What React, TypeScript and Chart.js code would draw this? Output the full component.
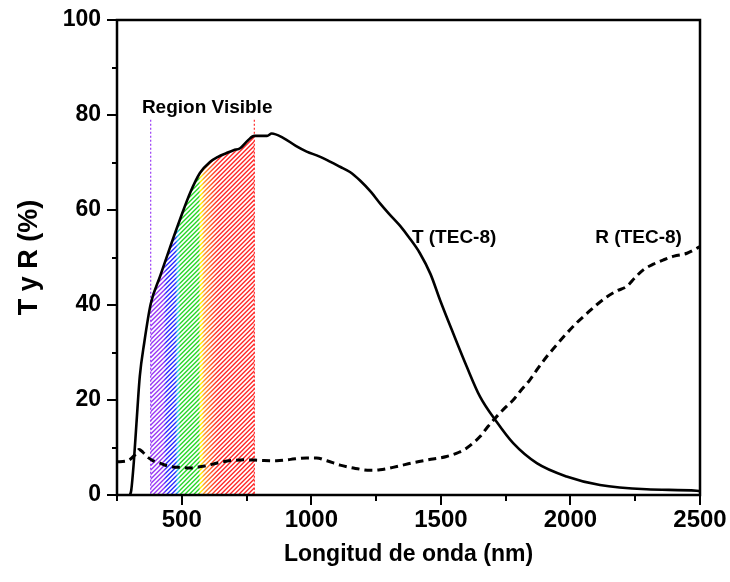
import React, { useEffect, useRef } from 'react';
import { Chart, registerables } from 'chart.js';

Chart.register(...registerables);

// ---- Data ----
const tWavelength = [300, 305, 315, 325, 338, 355, 380, 416, 455, 493, 532, 570, 609, 640, 673, 700, 725, 756, 780, 829, 847, 891, 940, 982, 1030, 1072, 1111, 1149, 1188, 1230, 1265, 1300, 1342, 1380, 1419, 1460, 1497, 1547, 1600, 1651, 1715, 1779, 1870, 1985, 2114, 2294, 2487, 2500];
const tValues = [0, 1, 7, 15, 25, 32, 40.2, 46, 52.2, 58, 63.6, 67.8, 70.1, 71.2, 72, 72.6, 73, 74.7, 75.6, 75.6, 76.1, 75.2, 73.5, 72.3, 71.3, 70.2, 69.1, 68, 66.2, 63.8, 61.4, 59.2, 56.7, 54, 50.9, 46.5, 41, 34.1, 27, 20.7, 15.4, 10.9, 6.7, 3.9, 2.1, 1.2, 0.9, 0.8];

const rWavelength = [250, 290, 320, 335, 350, 365, 390, 416, 440, 466, 500, 532, 560, 589, 620, 659, 700, 750, 800, 866, 920, 982, 1020, 1060, 1111, 1170, 1227, 1265, 1330, 1393, 1450, 1522, 1570, 1600, 1630, 1651, 1680, 1715, 1750, 1779, 1810, 1843, 1875, 1908, 1945, 1985, 2025, 2063, 2100, 2140, 2180, 2217, 2250, 2281, 2320, 2359, 2400, 2450, 2500];
const rValues = [7.0, 7.2, 8.5, 9.6, 9.0, 8.1, 7.2, 6.7, 6.2, 5.9, 5.8, 5.7, 5.9, 6.1, 6.5, 7.0, 7.3, 7.4, 7.3, 7.2, 7.5, 7.8, 7.8, 7.2, 6.3, 5.6, 5.2, 5.3, 6.0, 6.8, 7.4, 8.1, 9.0, 9.9, 11.2, 12.3, 14.3, 16.5, 18.5, 20, 22.1, 24.2, 26.7, 29.1, 31.5, 34, 36.3, 38.2, 40, 41.7, 43, 43.9, 45.8, 47.4, 48.6, 49.5, 50.3, 50.9, 52.3];

const visibleRange = [380, 780];
const markerTop = 79;
const spectrumWavelengths = [380, 430, 440, 475, 485, 495, 565, 572, 578, 585, 620, 640, 780];
const spectrumColors = ['#9a3cf5', '#9a3cf5', '#2b2bff', '#2b2bff', '#22ccee', '#2bd62b', '#2bd62b', '#ffee00', '#ffee00', '#ff9a2a', '#ff4a2a', '#ff2b2b', '#ff2b2b'];

const labelTexts = ['Region Visible', 'T (TEC-8)', 'R (TEC-8)'];
const labelX = [598, 1551, 2263];
const labelY = [81.5, 54.1, 54.1];

const xTitle = 'Longitud de onda (nm)';
const yTitle = 'T y R (%)';

const FONT = '"Liberation Sans", Arial, sans-serif';

const customPlugin = {
  id: 'custom',
  beforeDatasetsDraw(chart: any) {
    const { ctx, chartArea, scales } = chart;
    const xs = scales.x;
    const ys = scales.y;
    const x0 = xs.getPixelForValue(visibleRange[0]);
    const x1 = xs.getPixelForValue(visibleRange[1]);
    const yb = ys.getPixelForValue(0);

    // dotted markers
    ctx.save();
    ctx.lineWidth = 1.2;
    ctx.setLineDash([2, 2]);
    ctx.strokeStyle = spectrumColors[0];
    ctx.beginPath();
    ctx.moveTo(x0, ys.getPixelForValue(markerTop));
    ctx.lineTo(x0, yb);
    ctx.stroke();
    ctx.strokeStyle = spectrumColors[spectrumColors.length - 1];
    ctx.beginPath();
    ctx.moveTo(x1, ys.getPixelForValue(markerTop));
    ctx.lineTo(x1, yb);
    ctx.stroke();
    ctx.restore();

    // hatched area under T within visible range
    ctx.save();
    ctx.beginPath();
    ctx.moveTo(x0, yb);
    for (let i = 0; i < tWavelength.length; i++) {
      const w = tWavelength[i];
      if (w >= visibleRange[0] && w <= visibleRange[1]) {
        ctx.lineTo(xs.getPixelForValue(w), ys.getPixelForValue(tValues[i]));
      }
    }
    ctx.lineTo(x1, yb);
    ctx.closePath();
    ctx.clip();
    const grad = ctx.createLinearGradient(x0, 0, x1, 0);
    for (let i = 0; i < spectrumWavelengths.length; i++) {
      const f = (spectrumWavelengths[i] - visibleRange[0]) / (visibleRange[1] - visibleRange[0]);
      grad.addColorStop(Math.min(1, Math.max(0, f)), spectrumColors[i]);
    }
    ctx.strokeStyle = grad;
    ctx.lineWidth = 1.4;
    const h = yb - chartArea.top;
    ctx.beginPath();
    for (let k = x0 - h; k < x1 + 5; k += 4.5) {
      ctx.moveTo(k, yb);
      ctx.lineTo(k + h, yb - h);
    }
    ctx.stroke();
    ctx.restore();
  },
  afterDatasetsDraw(chart: any) {
    const { ctx, scales } = chart;
    ctx.save();
    ctx.fillStyle = '#000';
    ctx.font = `bold 19px ${FONT}`;
    ctx.textAlign = 'center';
    ctx.textBaseline = 'middle';
    for (let i = 0; i < labelTexts.length; i++) {
      ctx.fillText(labelTexts[i], scales.x.getPixelForValue(labelX[i]), scales.y.getPixelForValue(labelY[i]));
    }
    ctx.restore();
  },
  afterDraw(chart: any) {
    const { ctx, chartArea, scales } = chart;
    const { left, right, top, bottom } = chartArea;
    ctx.save();
    ctx.strokeStyle = '#000';
    // ticks
    ctx.lineWidth = 2;
    ctx.beginPath();
    scales.y.ticks.forEach((t: any) => {
      const y = Math.round(scales.y.getPixelForValue(t.value));
      const len = t.value % 20 === 0 ? 10 : 5;
      ctx.moveTo(left - len, y);
      ctx.lineTo(left, y);
    });
    scales.x.ticks.forEach((t: any) => {
      const x = Math.round(scales.x.getPixelForValue(t.value));
      const len = t.value % 500 === 0 ? 10 : 6;
      ctx.moveTo(x, bottom);
      ctx.lineTo(x, bottom + len);
    });
    ctx.stroke();
    // frame
    ctx.lineWidth = 2.5;
    ctx.strokeRect(left, top, right - left, bottom - top);
    // titles
    ctx.fillStyle = '#000';
    ctx.textAlign = 'center';
    ctx.textBaseline = 'middle';
    ctx.font = `bold 23px ${FONT}`;
    ctx.fillText(xTitle, (left + right) / 2, 555);
    ctx.save();
    ctx.translate(30, (top + bottom) / 2);
    ctx.rotate(-Math.PI / 2);
    ctx.font = `bold 27px ${FONT}`;
    ctx.fillText(yTitle, 0, 0);
    ctx.restore();
    ctx.restore();
  },
};

const zeroPad = (s: any) => {
  s.paddingLeft = 0;
  s.paddingRight = 0;
  s.paddingTop = 0;
  s.paddingBottom = 0;
};

export default function App() {
  const canvasRef = useRef<HTMLCanvasElement | null>(null);

  useEffect(() => {
    document.body.style.margin = '0';
    const canvas = canvasRef.current;
    if (!canvas) return;
    const chart = new Chart(canvas, {
      type: 'line',
      data: {
        datasets: [
          {
            label: 'T (TEC-8)',
            data: tWavelength.map((w, i) => ({ x: w, y: tValues[i] })),
            borderColor: '#000',
            borderWidth: 2.6,
            pointRadius: 0,
            cubicInterpolationMode: 'monotone',
            fill: false,
          },
          {
            label: 'R (TEC-8)',
            data: rWavelength.map((w, i) => ({ x: w, y: rValues[i] })),
            borderColor: '#000',
            borderWidth: 3,
            borderDash: [8, 5],
            pointRadius: 0,
            cubicInterpolationMode: 'monotone',
            fill: false,
          },
        ],
      },
      options: {
        responsive: false,
        animation: false,
        devicePixelRatio: 1,
        layout: { padding: { top: 20, right: 30, left: 0, bottom: 0 } },
        plugins: { legend: { display: false }, tooltip: { enabled: false } },
        scales: {
          x: {
            type: 'linear',
            min: 250,
            max: 2500,
            grid: { display: false, drawTicks: false },
            border: { display: false },
            ticks: {
              stepSize: 250,
              autoSkip: false,
              maxRotation: 0,
              padding: 11,
              color: '#000',
              font: { family: FONT, size: 24, weight: 'bold' },
              callback: (v: any) => (Number(v) % 500 === 0 ? String(v) : ''),
            },
            afterFit: (s: any) => {
              s.height = 87;
              zeroPad(s);
            },
          },
          y: {
            type: 'linear',
            min: 0,
            max: 100,
            grid: { display: false, drawTicks: false },
            border: { display: false },
            ticks: {
              stepSize: 10,
              autoSkip: false,
              padding: 16,
              color: '#000',
              font: { family: FONT, size: 23, weight: 'bold' },
              callback: (v: any) => (Number(v) % 20 === 0 ? String(v) : ''),
            },
            afterFit: (s: any) => {
              s.width = 117;
              zeroPad(s);
            },
          },
        },
      },
      plugins: [customPlugin],
    } as any);
    return () => chart.destroy();
  }, []);

  return <canvas ref={canvasRef} width={730} height={582} style={{ display: 'block' }} />;
}
